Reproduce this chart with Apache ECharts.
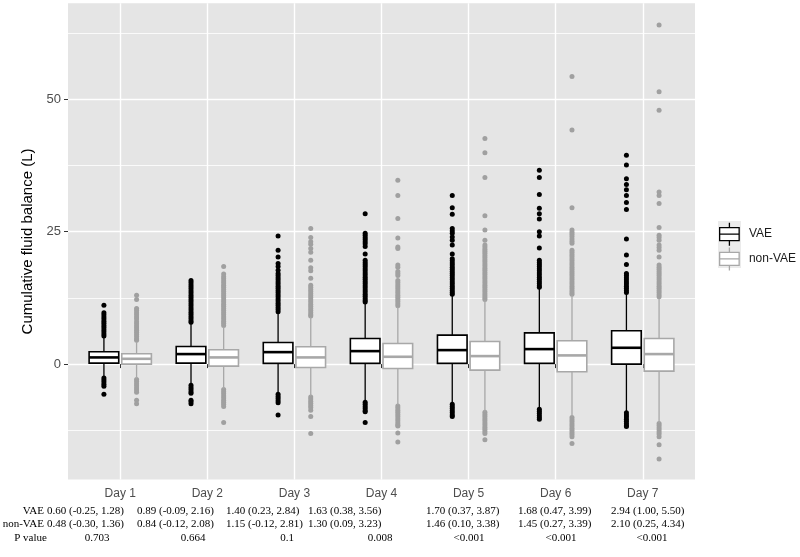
<!DOCTYPE html>
<html>
<head>
<meta charset="utf-8">
<script src="https://cdn.jsdelivr.net/npm/echarts@6/dist/echarts.min.js"></script>
<style>
html,body{margin:0;padding:0;background:#fff;}
#chart{width:800px;height:557px;}
</style>
</head>
<body>
<div id="chart"></div>
<script>
// ---------------- data ----------------
const days = ['Day 1', 'Day 2', 'Day 3', 'Day 4', 'Day 5', 'Day 6', 'Day 7'];
const seriesNames = ['VAE', 'non-VAE'];
const yTicks = [0, 25, 50];
const yMinorTicks = [-12.5, 12.5, 37.5, 62.5];

// [lower whisker, Q1, median, Q3, upper whisker]
const vaeBox = [
  [-2.4, 0.19, 1.26, 2.33, 5.1],
  [-3.8, 0.19, 1.89, 3.33, 7.6],
  [-5.5, 0.13, 2.26, 4.09, 9.7],
  [-7.1, 0.13, 2.45, 4.84, 11.6],
  [-7.5, 0.13, 2.64, 5.47, 13.0],
  [-8.4, 0.13, 2.83, 5.9, 14.3],
  [-9.0, 0.0, 3.08, 6.3, 13.3]
];
const nonVaeBox = [
  [-2.7, 0.0, 1.0, 1.95, 4.2],
  [-4.6, -0.38, 1.26, 2.7, 7.0],
  [-6.0, -0.63, 1.26, 3.27, 8.9],
  [-7.7, -0.82, 1.38, 3.9, 10.8],
  [-9.0, -1.13, 1.51, 4.28, 12.1],
  [-9.9, -1.45, 1.64, 4.4, 13.0],
  [-11.1, -1.32, 1.89, 4.84, 12.4]
];

const vaeOutliers = [
  [11.1, 9.7, 9.3, 8.9, 8.5, 8.1, 7.7, 7.3, 6.9, 6.5, 6.1, 5.7, 5.3, -2.6, -3.0, -3.4, -3.8, -4.2, -5.7],
  [15.8, 15.4, 15.0, 14.6, 14.2, 13.8, 13.4, 13.0, 12.6, 12.2, 11.8, 11.4, 11.0, 10.6, 10.2, 9.8, 9.4, 9.0, 8.6, 8.2, 7.9, -4.0, -4.4, -4.8, -5.2, -5.5, -6.8, -7.1, -7.5],
  [24.2, 21.5, 20.2, 19.0, 18.4, 17.7, 17.1, 16.7, 16.3, 15.9, 15.5, 15.1, 14.7, 14.3, 13.9, 13.5, 13.1, 12.7, 12.3, 11.9, 11.5, 11.1, 10.7, 10.3, 9.9, -5.7, -6.1, -6.5, -6.9, -7.3, -9.6],
  [28.4, 24.7, 24.3, 23.9, 23.5, 23.1, 22.7, 22.2, 20.8, 19.6, 19.2, 18.8, 18.4, 18.0, 17.6, 17.2, 16.8, 16.4, 16.0, 15.6, 15.2, 14.8, 14.4, 14.0, 13.6, 13.2, 12.8, 12.4, 12.0, 11.7, -7.2, -7.6, -8.0, -8.4, -8.8, -9.0, -11.0],
  [31.8, 29.5, 28.3, 25.6, 25.1, 24.7, 24.0, 23.4, 22.5, 20.8, 19.9, 19.5, 19.1, 18.7, 18.3, 17.9, 17.5, 17.1, 16.7, 16.3, 15.9, 15.5, 15.1, 14.7, 14.3, 13.9, 13.5, 13.2, -7.6, -8.0, -8.4, -8.8, -9.2, -9.6, -9.9],
  [36.6, 35.2, 32.0, 29.4, 28.4, 27.4, 25.0, 24.2, 21.9, 19.6, 19.2, 18.8, 18.4, 18.0, 17.6, 17.2, 16.8, 16.4, 16.0, 15.6, 15.2, 14.8, 14.5, -8.5, -8.9, -9.3, -9.7, -10.1, -10.4],
  [39.4, 37.6, 35.0, 33.9, 32.9, 31.8, 30.5, 29.2, 23.6, 20.6, 18.8, 17.1, 16.7, 16.3, 15.9, 15.5, 15.1, 14.7, 14.3, 13.9, 13.5, -9.2, -9.6, -10.0, -10.4, -10.8, -11.2, -11.6, -11.8]
];
const nonVaeOutliers = [
  [13.0, 12.2, 10.5, 10.1, 9.7, 9.3, 8.9, 8.5, 8.0, 7.6, 7.2, 6.8, 6.4, 6.0, 5.6, 5.2, 4.8, 4.5, -2.9, -3.3, -3.7, -4.1, -4.5, -4.9, -5.3, -6.8, -7.5],
  [18.4, 17.0, 16.5, 16.1, 15.7, 15.3, 14.9, 14.5, 14.1, 13.7, 13.3, 12.9, 12.5, 12.1, 11.7, 11.3, 10.9, 10.5, 10.1, 9.7, 9.3, 8.9, 8.5, 8.1, 7.7, 7.3, -4.8, -5.2, -5.6, -6.0, -6.4, -6.8, -7.2, -7.6, -8.0, -11.0],
  [25.6, 23.9, 23.1, 22.6, 21.8, 21.1, 19.6, 18.2, 17.6, 16.2, 14.9, 14.5, 14.1, 13.7, 13.3, 12.9, 12.5, 12.1, 11.7, 11.3, 10.9, 10.5, 10.1, 9.7, 9.3, 9.1, -6.2, -6.6, -7.0, -7.4, -7.8, -8.2, -8.7, -9.9, -13.1],
  [34.7, 31.8, 27.5, 23.8, 22.1, 21.8, 18.7, 18.3, 17.5, 17.1, 16.7, 15.8, 15.4, 15.0, 14.6, 14.2, 13.8, 13.4, 13.0, 12.6, 12.2, 11.8, 11.4, 11.0, -7.9, -8.3, -8.7, -9.1, -9.5, -9.9, -10.3, -10.7, -11.1, -11.5, -11.7, -13.0, -14.7],
  [42.6, 39.9, 35.2, 28.0, 25.3, 23.4, 22.5, 22.1, 21.7, 21.3, 20.9, 20.5, 20.1, 19.7, 19.3, 18.9, 18.5, 18.1, 17.7, 17.3, 16.9, 16.5, 16.1, 15.7, 15.3, 14.9, 14.5, 14.1, 13.7, 13.3, 12.9, 12.5, 12.2, -9.1, -9.5, -9.9, -10.3, -10.7, -11.1, -11.5, -11.9, -12.3, -12.7, -13.1, -14.3],
  [54.3, 44.2, 29.5, 25.3, 24.9, 24.5, 24.1, 23.6, 23.2, 22.8, 21.5, 21.1, 20.7, 20.3, 19.9, 19.5, 19.1, 18.7, 18.3, 17.9, 17.5, 17.1, 16.7, 16.3, 15.9, 15.5, 15.1, 14.7, 14.3, 13.9, 13.5, 13.2, -10.1, -10.5, -10.9, -11.3, -11.7, -12.1, -12.5, -12.9, -13.3, -13.7, -15.0],
  [64.0, 51.4, 47.9, 32.5, 31.8, 30.3, 25.8, 24.3, 23.9, 23.4, 22.5, 22.0, 21.5, 20.2, 18.7, 18.3, 17.9, 17.5, 17.1, 16.7, 16.3, 15.9, 15.5, 15.1, 14.7, 14.3, 13.9, 13.5, 13.1, 12.7, -11.2, -11.6, -12.0, -12.4, -12.8, -13.2, -13.7, -15.2, -17.9]
];

// table under the chart
const tableRowLabels = ['VAE', 'non-VAE', 'P value'];
const vaeStats = ['0.60 (-0.25, 1.28)', '0.89 (-0.09, 2.16)', '1.40 (0.23, 2.84)', '1.63 (0.38, 3.56)', '1.70 (0.37, 3.87)', '1.68 (0.47, 3.99)', '2.94 (1.00, 5.50)'];
const nonVaeStats = ['0.48 (-0.30, 1.36)', '0.84 (-0.12, 2.08)', '1.15 (-0.12, 2.81)', '1.30 (0.09, 3.23)', '1.46 (0.10, 3.38)', '1.45 (0.27, 3.39)', '2.10 (0.25, 4.34)'];
const pValues = ['0.703', '0.664', '0.1', '0.008', '<0.001', '<0.001', '<0.001'];

// ---------------- layout / style ----------------
const DODGE = 0.1875, BOX_W = 0.34;
const BLACK = '#000000', GREY = '#A8A8A8', GREY_PT = '#A0A0A0';
const statColX = [47, 137, 226, 308, 426, 518, 611];
const pColX = [97, 193, 287, 380, 469, 561, 652];
const rowY = [511, 524.5, 538];
const rowLabelPos = [{x: 44, align: 'right'}, {x: 44, align: 'right'}, {x: 30.5, align: 'center'}];
const SERIF = '11px "Liberation Serif", "Times New Roman", serif';

function boxRenderer(offset, stroke) {
  return function (params, api) {
    const c = api.value(0) + offset;
    const pHigh = api.coord([c, api.value(5)]);
    const pQ3 = api.coord([c, api.value(4)]);
    const pMed = api.coord([c, api.value(3)]);
    const pQ1 = api.coord([c, api.value(2)]);
    const pLow = api.coord([c, api.value(1)]);
    const l = api.coord([c - BOX_W / 2, 0])[0];
    const r = api.coord([c + BOX_W / 2, 0])[0];
    return {
      type: 'group',
      children: [
        {type: 'line', shape: {x1: pHigh[0], y1: pHigh[1], x2: pQ3[0], y2: pQ3[1]}, style: {stroke: stroke, lineWidth: 1.3}},
        {type: 'line', shape: {x1: pQ1[0], y1: pQ1[1], x2: pLow[0], y2: pLow[1]}, style: {stroke: stroke, lineWidth: 1.3}},
        {type: 'rect', shape: {x: l, y: pQ3[1], width: r - l, height: pQ1[1] - pQ3[1]}, style: {fill: '#fff', stroke: stroke, lineWidth: 1.6}},
        {type: 'line', shape: {x1: l, y1: pMed[1], x2: r, y2: pMed[1]}, style: {stroke: stroke, lineWidth: 2.6}}
      ]
    };
  };
}

function boxData(arr) { return arr.map((b, i) => [i + 1].concat(b)); }
function outlierData(arr, offset) {
  const out = [];
  arr.forEach((vals, i) => vals.forEach(v => out.push([i + 1 + offset, v])));
  return out;
}

const graphics = [
  {type: 'rect', shape: {x: 718, y: 221, width: 23, height: 47}, style: {fill: '#EBEBEB'}, z: 0, silent: true}
];
const rowTexts = [vaeStats, nonVaeStats];
tableRowLabels.forEach((t, r) => {
  graphics.push({type: 'text', x: rowLabelPos[r].x, y: rowY[r],
    style: {text: t, font: SERIF, fill: '#000', align: rowLabelPos[r].align, textAlign: rowLabelPos[r].align, verticalAlign: 'middle', textVerticalAlign: 'middle'}});
});
rowTexts.forEach((row, r) => row.forEach((t, i) => {
  graphics.push({type: 'text', x: statColX[i], y: rowY[r],
    style: {text: t, font: SERIF, fill: '#000', align: 'left', textAlign: 'left', verticalAlign: 'middle', textVerticalAlign: 'middle'}});
}));
pValues.forEach((t, i) => {
  graphics.push({type: 'text', x: pColX[i], y: rowY[2],
    style: {text: t, font: SERIF, fill: '#000', align: 'center', textAlign: 'center', verticalAlign: 'middle', textVerticalAlign: 'middle'}});
});

const keyIcon = 'path://M0.75,5 L20.25,5 L20.25,18 L0.75,18 Z M0.75,11.5 L20.25,11.5 M10.5,0 L10.5,5 M10.5,18 L10.5,23';
const SANS = '"Liberation Sans", Arial, sans-serif';
const xTicks = days.map((d, i) => i + 1);

const option = {
  animation: false,
  backgroundColor: '#ffffff',
  grid: {left: 68, right: 105, top: 3.3, height: 476.3, show: true, backgroundColor: '#E5E5E5', borderWidth: 0},
  legend: {
    orient: 'vertical', left: 719, top: 222, itemWidth: 21, itemHeight: 23, itemGap: 0.5, padding: 0,
    selectedMode: false,
    textStyle: {fontFamily: SANS, fontSize: 12, color: '#1a1a1a', padding: [0, 0, 0, 4]},
    data: [
      {name: seriesNames[0], icon: keyIcon, itemStyle: {color: '#fff', borderColor: BLACK, borderWidth: 1.3}},
      {name: seriesNames[1], icon: keyIcon, itemStyle: {color: '#fff', borderColor: GREY, borderWidth: 1.3}}
    ]
  },
  xAxis: {
    type: 'value', min: 0.4, max: 7.6,
    axisLine: {show: false},
    axisTick: {show: true, length: 4, customValues: xTicks, lineStyle: {color: '#333', width: 1}},
    axisLabel: {customValues: xTicks, formatter: v => days[Math.round(v) - 1], color: '#4D4D4D', fontSize: 12, fontFamily: SANS, margin: 8},
    splitLine: {show: true, lineStyle: {color: '#fff', width: 1.4}}
  },
  yAxis: [
    {
      type: 'value', min: -21.8, max: 68.1,
      axisLine: {show: false},
      axisTick: {show: true, length: 4, customValues: yTicks, lineStyle: {color: '#333', width: 1}},
      axisLabel: {customValues: yTicks, color: '#4D4D4D', fontSize: 13, fontFamily: SANS, margin: 7},
      splitLine: {show: true, lineStyle: {color: '#fff', width: 1.4}},
      name: 'Cumulative fluid balance (L)', nameLocation: 'middle', nameGap: 19,
      nameTextStyle: {fontFamily: SANS, fontSize: 15, color: '#000'}
    },
    {
      type: 'value', min: -21.8, max: 68.1, position: 'left',
      axisLine: {show: false},
      axisTick: {show: false, customValues: yMinorTicks},
      axisLabel: {show: false},
      splitLine: {show: true, lineStyle: {color: '#fff', width: 0.8}}
    }
  ],
  graphic: graphics,
  series: [
    {name: seriesNames[0], type: 'custom', renderItem: boxRenderer(-DODGE, BLACK), data: boxData(vaeBox),
      encode: {x: 0, y: [1, 2, 3, 4, 5]}, itemStyle: {color: BLACK}, z: 3},
    {name: seriesNames[0], type: 'scatter', data: outlierData(vaeOutliers, -DODGE), symbolSize: 5,
      itemStyle: {color: BLACK, opacity: 1}, z: 2},
    {name: seriesNames[1], type: 'custom', renderItem: boxRenderer(DODGE, GREY), data: boxData(nonVaeBox),
      encode: {x: 0, y: [1, 2, 3, 4, 5]}, itemStyle: {color: GREY}, z: 3},
    {name: seriesNames[1], type: 'scatter', data: outlierData(nonVaeOutliers, DODGE), symbolSize: 5,
      itemStyle: {color: GREY_PT, opacity: 1}, z: 2}
  ]
};

const chart = echarts.init(document.getElementById('chart'), null, {renderer: 'canvas'});
chart.setOption(option);
</script>
</body>
</html>
